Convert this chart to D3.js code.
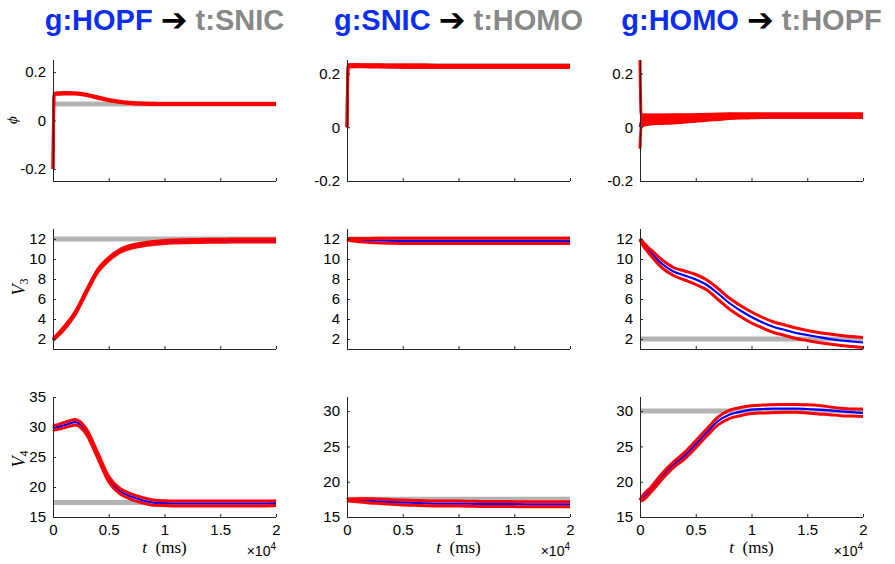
<!DOCTYPE html>
<html>
<head>
<meta charset="utf-8">
<script src="https://cdn.jsdelivr.net/npm/d3@7"></script>
<style>
  body { margin: 0; background: #fff; }
  svg { display: block; }
  .tick text { font-family: "Liberation Sans", Arial, sans-serif; font-size: 15px; fill: #000; }
  .domain, .tick line { stroke: #262626; }
</style>
</head>
<body>
<svg id="canvas" width="895" height="564"></svg>
<script>
// time samples (ms), shared by every series
let tMs = [0, 100, 1000, 2000, 3000, 4000, 5000, 6000, 7000, 8000, 9000, 10000, 11000, 12000, 13000, 14000, 15000, 16000, 17000, 18000, 19000, 20000]

let titlesG = ['g:HOPF', 'g:SNIC', 'g:HOMO']
let titlesT = ['t:SNIC', 't:HOMO', 't:HOPF']

// target values (gray lines) per column: phi, V3, V4
let targetPhi = [0.068, 0.23, 0.043]
let targetV3 = [12, 12, 2]
let targetV4 = [17.4, 17.5, 30]

// column 1: g:HOPF -> t:SNIC
let phiA_mean = [-0.2, 0.110, 0.113, 0.112, 0.106, 0.095, 0.084, 0.077, 0.072, 0.070, 0.069, 0.068, 0.068, 0.068, 0.068, 0.068, 0.068, 0.068, 0.068, 0.068, 0.068, 0.068]
let phiA_hi   = [-0.2, 0.113, 0.116, 0.115, 0.109, 0.098, 0.087, 0.080, 0.075, 0.072, 0.071, 0.070, 0.070, 0.070, 0.070, 0.070, 0.070, 0.070, 0.070, 0.070, 0.070, 0.070]
let phiA_lo   = [-0.2, 0.107, 0.110, 0.109, 0.103, 0.092, 0.081, 0.074, 0.069, 0.067, 0.066, 0.066, 0.066, 0.066, 0.066, 0.066, 0.066, 0.066, 0.066, 0.066, 0.066, 0.066]
let v3A_mean = [1.95, 2.05, 3.1, 4.6, 6.75, 8.8, 10.0, 10.8, 11.22, 11.45, 11.6, 11.7, 11.75, 11.78, 11.8, 11.82, 11.83, 11.84, 11.85, 11.85, 11.85, 11.85]
let v3A_hi   = [2.05, 2.15, 3.25, 4.75, 6.9, 8.95, 10.15, 10.95, 11.37, 11.6, 11.75, 11.85, 11.9, 11.93, 11.95, 11.97, 11.98, 11.99, 12.0, 12.0, 12.0, 12.0]
let v3A_lo   = [1.85, 1.95, 2.95, 4.45, 6.6, 8.65, 9.85, 10.65, 11.07, 11.3, 11.45, 11.55, 11.6, 11.63, 11.65, 11.67, 11.68, 11.69, 11.7, 11.7, 11.7, 11.7]
let v4A_mean = [30.0, 29.9, 30.3, 30.8, 29.2, 25.3, 21.3, 19.3, 18.4, 17.8, 17.4, 17.3, 17.25, 17.25, 17.25, 17.25, 17.25, 17.25, 17.25, 17.25, 17.25, 17.3]
let v4A_hi   = [30.4, 30.3, 30.75, 31.25, 29.65, 25.75, 21.75, 19.75, 18.85, 18.25, 17.85, 17.7, 17.65, 17.65, 17.65, 17.65, 17.65, 17.65, 17.65, 17.65, 17.65, 17.7]
let v4A_lo   = [29.6, 29.5, 29.85, 30.35, 28.75, 24.85, 20.85, 18.85, 17.95, 17.35, 16.95, 16.9, 16.85, 16.85, 16.85, 16.85, 16.85, 16.85, 16.85, 16.85, 16.85, 16.9]

// column 2: g:SNIC -> t:HOMO
let phiB_mean = [0, 0.228, 0.229, 0.228, 0.228, 0.227, 0.227, 0.227, 0.227, 0.226, 0.226, 0.226, 0.226, 0.226, 0.226, 0.226, 0.226, 0.226, 0.226, 0.226, 0.226, 0.226]
let phiB_hi   = [0, 0.232, 0.233, 0.232, 0.232, 0.231, 0.231, 0.231, 0.231, 0.230, 0.230, 0.230, 0.230, 0.230, 0.230, 0.230, 0.230, 0.230, 0.230, 0.230, 0.230, 0.230]
let phiB_lo   = [0, 0.224, 0.225, 0.224, 0.224, 0.223, 0.222, 0.222, 0.222, 0.222, 0.222, 0.222, 0.222, 0.222, 0.222, 0.222, 0.222, 0.222, 0.222, 0.222, 0.222, 0.222]
let v3B_mean = [12.0, 11.95, 11.9, 11.85, 11.85, 11.82, 11.8, 11.8, 11.8, 11.8, 11.8, 11.8, 11.8, 11.8, 11.8, 11.8, 11.8, 11.8, 11.8, 11.8, 11.8, 11.8]
let v3B_hi   = [12.05, 12.05, 12.05, 12.05, 12.08, 12.08, 12.08, 12.08, 12.08, 12.08, 12.08, 12.08, 12.08, 12.08, 12.08, 12.08, 12.08, 12.08, 12.08, 12.08, 12.08, 12.08]
let v3B_lo   = [11.95, 11.9, 11.75, 11.65, 11.6, 11.58, 11.55, 11.55, 11.55, 11.55, 11.55, 11.55, 11.55, 11.55, 11.55, 11.55, 11.55, 11.55, 11.55, 11.55, 11.55, 11.55]
let v4B_mean = [17.4, 17.4, 17.35, 17.3, 17.2, 17.1, 17.05, 17.0, 16.95, 16.9, 16.9, 16.9, 16.88, 16.85, 16.85, 16.85, 16.82, 16.8, 16.8, 16.8, 16.8, 16.8]
let v4B_hi   = [17.45, 17.55, 17.6, 17.6, 17.55, 17.45, 17.4, 17.35, 17.3, 17.25, 17.25, 17.25, 17.23, 17.2, 17.2, 17.2, 17.17, 17.15, 17.15, 17.15, 17.15, 17.15]
let v4B_lo   = [17.35, 17.3, 17.15, 17.0, 16.9, 16.8, 16.7, 16.65, 16.6, 16.55, 16.55, 16.55, 16.53, 16.5, 16.5, 16.5, 16.47, 16.45, 16.45, 16.45, 16.45, 16.45]

// column 3: g:HOMO -> t:HOPF
let phiC_mean = [0.0, 0.025, 0.028, 0.03, 0.031, 0.033, 0.035, 0.037, 0.039, 0.041, 0.042, 0.043, 0.043, 0.043, 0.043, 0.043, 0.043, 0.043, 0.043, 0.043, 0.043, 0.043]
let phiC_hi   = [0.25, 0.046, 0.045, 0.045, 0.046, 0.046, 0.047, 0.048, 0.049, 0.050, 0.050, 0.050, 0.050, 0.050, 0.050, 0.050, 0.050, 0.050, 0.050, 0.050, 0.050, 0.050]
let phiC_lo   = [-0.08, 0.004, 0.012, 0.014, 0.016, 0.019, 0.022, 0.026, 0.029, 0.032, 0.034, 0.035, 0.036, 0.036, 0.036, 0.036, 0.036, 0.036, 0.036, 0.036, 0.036, 0.036]
let v3C_mean = [12.0, 11.8, 10.6, 9.5, 8.75, 8.35, 7.95, 7.4, 6.55, 5.6, 4.85, 4.2, 3.65, 3.2, 2.9, 2.6, 2.4, 2.2, 2.0, 1.85, 1.75, 1.65]
let v3C_hi   = [12.05, 11.9, 10.9, 9.9, 9.15, 8.8, 8.45, 7.9, 7.05, 6.1, 5.35, 4.7, 4.15, 3.7, 3.4, 3.1, 2.85, 2.65, 2.5, 2.35, 2.25, 2.15]
let v3C_lo   = [11.95, 11.7, 10.3, 9.1, 8.35, 7.9, 7.45, 6.9, 5.95, 5.0, 4.25, 3.6, 3.1, 2.65, 2.35, 2.05, 1.85, 1.65, 1.5, 1.35, 1.25, 1.15]
let v4C_mean = [17.35, 17.5, 18.9, 20.8, 22.4, 23.7, 25.3, 27.0, 28.6, 29.5, 29.9, 30.2, 30.3, 30.35, 30.35, 30.35, 30.3, 30.2, 30.1, 29.95, 29.85, 29.75]
let v4C_hi   = [17.4, 17.7, 19.25, 21.2, 22.8, 24.15, 25.8, 27.5, 29.15, 30.1, 30.5, 30.75, 30.85, 30.9, 30.95, 30.95, 30.9, 30.8, 30.6, 30.4, 30.3, 30.3]
let v4C_lo   = [17.3, 17.3, 18.55, 20.4, 22.0, 23.25, 24.8, 26.5, 28.05, 28.95, 29.35, 29.65, 29.75, 29.8, 29.85, 29.85, 29.75, 29.6, 29.5, 29.35, 29.3, 29.25]

let xTicks = [0, 5000, 10000, 15000, 20000]
let xTickLabels = ['0', '0.5', '1', '1.5', '2']
let phiTicks = [-0.2, 0, 0.2]
let v3Ticks = [2, 4, 6, 8, 10, 12]
let v4TicksA = [15, 20, 25, 30, 35]
let v4TicksBC = [15, 20, 25, 30]

let canvas = d3.select('#canvas')

let colLeft = [53, 347, 640]
let colWidth = 223
let rowTop = [60, 229, 397]
let rowHeight = [121, 120, 120]

let panels = [
    // row 0: phi
    {row: 0, col: 0, dom: [-0.25, 0.25], ticks: phiTicks, target: targetPhi[0], mean: phiA_mean, hi: phiA_hi, lo: phiA_lo, fill: true},
    {row: 0, col: 1, dom: [-0.2, 0.25], ticks: phiTicks, target: targetPhi[1], mean: phiB_mean, hi: phiB_hi, lo: phiB_lo, fill: true},
    {row: 0, col: 2, dom: [-0.2, 0.25], ticks: phiTicks, target: targetPhi[2], mean: phiC_mean, hi: phiC_hi, lo: phiC_lo, fill: true},
    // row 1: V3
    {row: 1, col: 0, dom: [1, 13], ticks: v3Ticks, target: targetV3[0], mean: v3A_mean, hi: v3A_hi, lo: v3A_lo},
    {row: 1, col: 1, dom: [1, 13], ticks: v3Ticks, target: targetV3[1], mean: v3B_mean, hi: v3B_hi, lo: v3B_lo},
    {row: 1, col: 2, dom: [1, 13], ticks: v3Ticks, target: targetV3[2], mean: v3C_mean, hi: v3C_hi, lo: v3C_lo},
    // row 2: V4
    {row: 2, col: 0, dom: [15, 35], ticks: v4TicksA, target: targetV4[0], mean: v4A_mean, hi: v4A_hi, lo: v4A_lo},
    {row: 2, col: 1, dom: [15, 32], ticks: v4TicksBC, target: targetV4[1], mean: v4B_mean, hi: v4B_hi, lo: v4B_lo},
    {row: 2, col: 2, dom: [15, 32], ticks: v4TicksBC, target: targetV4[2], mean: v4C_mean, hi: v4C_hi, lo: v4C_lo}
]

let drawPanel = (p) => {
    let x0 = colLeft[p.col]
    let y0 = rowTop[p.row]
    let h = rowHeight[p.row]
    let x = d3.scaleLinear().domain([0, 20000]).range([0, colWidth])
    let y = d3.scaleLinear().domain(p.dom).range([h, 0])

    let g = canvas.append('g').attr('transform', `translate(${x0},${y0})`)

    // target (gray)
    g.append('path')
        .datum([0, 20000])
        .attr('d', d3.line().x(d => x(d)).y(() => y(p.target)))
        .attr('fill', 'none')
        .attr('stroke', '#b3b3b3')
        .attr('stroke-width', 5)

    let line = (arr) => d3.line()
        .x((d, i) => x(tMs[i]))
        .y(d => y(d))
        .curve(d3.curveMonotoneX)(arr)

    // mean (blue)
    g.append('path')
        .attr('d', line(p.mean))
        .attr('fill', 'none')
        .attr('stroke', '#0000ff')
        .attr('stroke-width', 2.2)

    // spread band (red) - phi traces oscillate so fill between bounds
    if (p.fill) {
        g.append('path')
            .datum(tMs)
            .attr('d', d3.area()
                .x(d => x(d))
                .y0((d, i) => y(p.lo[i]))
                .y1((d, i) => y(p.hi[i]))
                .curve(d3.curveMonotoneX))
            .attr('fill', '#ff0000')
    }
    ;[p.hi, p.lo].forEach(arr => {
        g.append('path')
            .attr('d', line(arr))
            .attr('fill', 'none')
            .attr('stroke', '#ff0000')
            .attr('stroke-width', 3)
            .attr('stroke-linejoin', 'round')
    })

    // axes, ticks inward like matlab
    let yAxis = d3.axisLeft(y).tickValues(p.ticks).tickSize(-3).tickPadding(7)
        .tickFormat(d => String(d))
    let ya = g.append('g').call(yAxis)
    ya.select('.domain').attr('d', `M0.5,0V${h}`)

    let xAxis = d3.axisBottom(x).tickValues(xTicks).tickSize(-3).tickPadding(7)
        .tickFormat((d, i) => p.row == 2 ? xTickLabels[i] : '')
    let xa = g.append('g').attr('transform', `translate(0,${h})`).call(xAxis)
    xa.select('.domain').attr('d', `M0,0.5H${colWidth}`)

    if (p.row == 2) {
        let cx = colWidth / 2
        let lab = g.append('text')
            .attr('x', cx).attr('y', h + 36)
            .attr('text-anchor', 'middle')
            .style('font-family', '"Liberation Serif", serif')
            .style('font-size', '17px')
        lab.append('tspan').style('font-style', 'italic').text('t')
        lab.append('tspan').text('\u2002(ms)')

        let mult = g.append('text')
            .attr('x', colWidth).attr('y', h + 39)
            .attr('text-anchor', 'end')
            .style('font-family', '"Liberation Sans", sans-serif')
            .style('font-size', '14px')
        mult.append('tspan').text('\u00d710')
        mult.append('tspan').attr('dy', -6).style('font-size', '10px').text('4')
    }
}

panels.forEach(drawPanel)

// titles
titlesG.forEach((tg, i) => {
    let t = canvas.append('text')
        .attr('x', colLeft[i] + colWidth / 2)
        .attr('y', 30)
        .attr('text-anchor', 'middle')
        .style('font-family', '"Liberation Sans", Arial, sans-serif')
        .style('font-weight', 'bold')
        .style('font-size', '29px')
    t.append('tspan').attr('fill', '#0b2ef2').text(tg + ' ')
    t.append('tspan').attr('fill', '#000').attr('dy', 1).style('font-family', '"DejaVu Sans", sans-serif').style('font-size', '32px').text('\u2794')
    t.append('tspan').attr('fill', '#888888').attr('dy', -1).text(' ' + titlesT[i])
})

// y labels
let yLabel = (cx, cy) => canvas.append('text')
    .attr('transform', `translate(${cx},${cy}) rotate(-90)`)
    .attr('text-anchor', 'middle')
    .style('font-family', '"Liberation Serif", serif')
    .style('font-size', '18px')

yLabel(17, 120).append('tspan').style('font-style', 'italic').style('font-size', '15px').text('\u03d5')
let l3 = yLabel(25, 287)
l3.append('tspan').style('font-style', 'italic').text('V')
l3.append('tspan').attr('dy', 3).style('font-size', '12px').text('3')
let l4 = yLabel(25, 459)
l4.append('tspan').style('font-style', 'italic').text('V')
l4.append('tspan').attr('dy', 3).style('font-size', '12px').text('4')
</script>
</body>
</html>
